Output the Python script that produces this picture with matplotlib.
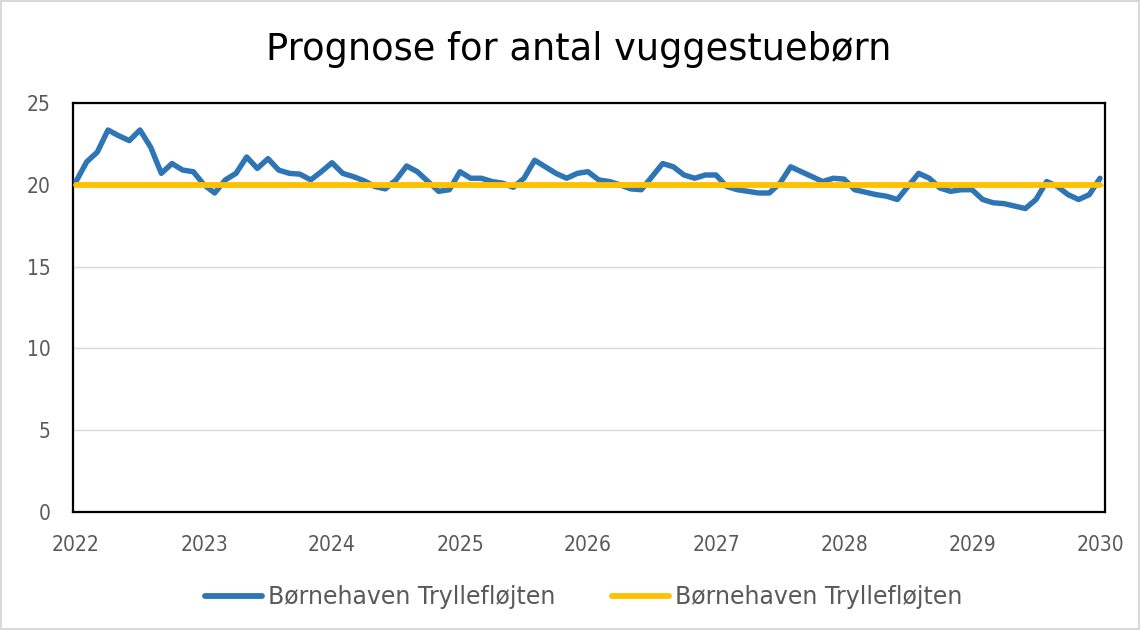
import matplotlib
matplotlib.use("Agg")
import matplotlib.pyplot as plt
import numpy as np

title = "Prognose for antal vuggestuebørn"
series_name = "Børnehaven Tryllefløjten"
start_year = 2022
year_ticks = [2022, 2023, 2024, 2025, 2026, 2027, 2028, 2029, 2030]
y_ticks = [0, 5, 10, 15, 20, 25]

# monthly forecast values, Jan 2022 .. Jan 2030
forecast = [
    20.2, 21.4, 22.0, 23.35, 23.0, 22.7, 23.35, 22.3, 20.7, 21.3, 20.9, 20.8,
    20.0, 19.5, 20.3, 20.7, 21.7, 21.0, 21.6, 20.9, 20.7, 20.65, 20.3, 20.8,
    21.35, 20.7, 20.5, 20.25, 19.9, 19.75, 20.3, 21.15, 20.8, 20.2, 19.6, 19.7,
    20.8, 20.4, 20.4, 20.2, 20.1, 19.85, 20.4, 21.5, 21.1, 20.7, 20.4, 20.7,
    20.8, 20.3, 20.2, 20.0, 19.75, 19.7, 20.5, 21.3, 21.1, 20.6, 20.4, 20.6,
    20.6, 19.9, 19.7, 19.6, 19.5, 19.5, 20.1, 21.1, 20.8, 20.5, 20.2, 20.4,
    20.35, 19.7, 19.55, 19.4, 19.3, 19.1, 19.9, 20.7, 20.4, 19.8, 19.6, 19.7,
    19.7, 19.1, 18.9, 18.85, 18.7, 18.55, 19.1, 20.2, 19.9, 19.4, 19.1, 19.4,
    20.4,
]
norm_value = [20.0] * len(forecast)

fig = plt.figure(figsize=(11.4, 6.3), dpi=100)
fig.patch.set_facecolor("white")
fig.patch.set_edgecolor("#D9D9D9")
fig.patch.set_linewidth(1.5)

ax = fig.add_axes([73 / 1140, 1 - 512 / 630, (1105 - 73) / 1140, (512 - 103) / 630])

x = start_year + np.arange(len(forecast)) / 12.0
ax.plot(x, forecast, color="#2E75B6", lw=3.9, solid_joinstyle="round",
        solid_capstyle="round", label=series_name, zorder=3)
ax.plot(x, norm_value, color="#FFC000", lw=4.2, solid_capstyle="round",
        label=series_name, zorder=4)

ax.set_xlim(2022 - 3 / 128, 2030 + 5 / 128)
ax.set_ylim(0, 25)
ax.set_xticks(year_ticks)
ax.set_xticklabels([str(y) for y in year_ticks], family="DejaVu Sans",
                   stretch="condensed", fontsize=15, color="#595959")
ax.set_yticks(y_ticks)
ax.set_yticklabels([str(v) for v in y_ticks], family="DejaVu Sans",
                   stretch="condensed", fontsize=15, color="#595959")
ax.tick_params(axis="both", length=0)
ax.tick_params(axis="x", pad=16.5)
ax.tick_params(axis="y", pad=16)
ax.grid(axis="y", color="#D9D9D9", lw=1)
ax.set_axisbelow(True)
for sp in ax.spines.values():
    sp.set_color("black")
    sp.set_linewidth(1.6)

fig.text(0.508, 1 - 50 / 630, title, ha="center", va="center",
         fontsize=26.5, family="DejaVu Sans", color="black")

leg = fig.legend(loc="center", bbox_to_anchor=(0.512, 1 - 597 / 630), ncol=2,
                 frameon=False, prop={"family": "DejaVu Sans", "size": 17},
                 handlelength=2.4, handletextpad=0.25, columnspacing=2.4)
for t in leg.get_texts():
    t.set_color("#595959")
for h in leg.get_lines():
    h.set_linewidth(4.2)

fig.savefig("out.png", dpi=100, facecolor="white", edgecolor=fig.get_edgecolor())
